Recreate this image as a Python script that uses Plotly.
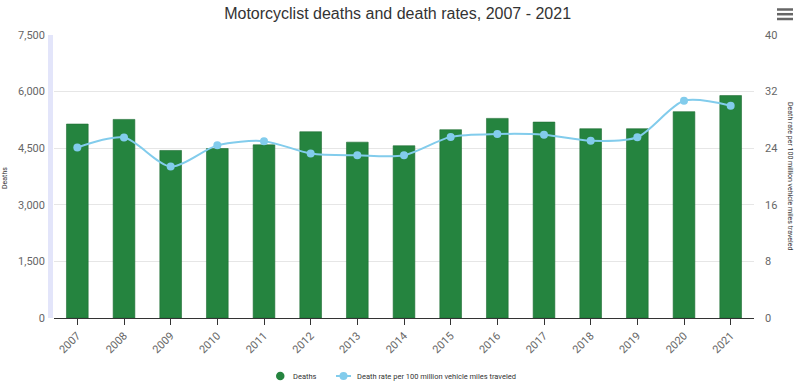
import plotly.graph_objects as go

years = [str(y) for y in range(2007, 2022)]
deaths = [5140, 5263, 4440, 4492, 4590, 4936, 4660, 4565, 4990, 5290, 5192, 5016, 5016, 5468, 5894]
death_rate = [24.1, 25.5, 21.4, 24.4, 25.0, 23.25, 23.0, 23.0, 25.6, 26.0, 25.9, 25.05, 25.55, 30.7, 30.0]
left_ticks = [0, 1500, 3000, 4500, 6000, 7500]
right_ticks = [0, 8, 16, 24, 32, 40]
deaths_name = "Deaths"
rate_name = "Death rate per 100 million vehicle miles traveled"

W, H = 800, 386
L, R, T, B = 54, 46, 35, 68
pw, ph = W - L - R, H - T - B

def px(x):
    return (x - L) / pw

def py(y):
    return (H - B - y) / ph

bar_color = "#25843f"
line_color = "#82ccec"

fig = go.Figure()
fig.add_trace(go.Bar(x=years, y=deaths, name=deaths_name,
                     marker=dict(color=bar_color, line=dict(color="#1d6b33", width=0.6)),
                     showlegend=False, yaxis="y"))
fig.add_trace(go.Scatter(x=years, y=death_rate, name=rate_name, showlegend=False,
                         mode="lines+markers", line=dict(color=line_color, width=2, shape="spline", smoothing=0.8),
                         marker=dict(color=line_color, size=8), yaxis="y2"))

ly = 376
shapes = [
    dict(type="rect", xref="paper", yref="paper", x0=px(48), x1=px(53), y0=0, y1=1,
         fillcolor="#e3e5fa", line=dict(width=0), layer="below"),
    # legend symbols
    dict(type="circle", xref="paper", yref="paper", x0=px(276), x1=px(284.5), y0=py(ly - 4.25), y1=py(ly + 4.25),
         fillcolor=bar_color, line=dict(width=0)),
    dict(type="line", xref="paper", yref="paper", x0=px(336), x1=px(351), y0=py(ly), y1=py(ly),
         line=dict(color=line_color, width=2)),
    dict(type="circle", xref="paper", yref="paper", x0=px(339.5), x1=px(347.5), y0=py(ly - 4), y1=py(ly + 4),
         fillcolor=line_color, line=dict(width=0)),
]
for yy in (9.5, 14.2, 19):
    shapes.append(dict(type="line", xref="paper", yref="paper", x0=px(777), x1=px(793), y0=py(yy), y1=py(yy),
                       line=dict(color="#666666", width=2.5)))

fig.update_layout(
    width=W, height=H,
    margin=dict(l=L, r=R, t=T, b=B, autoexpand=False),
    paper_bgcolor="white", plot_bgcolor="white",
    font=dict(family="Roboto, Arial, sans-serif", color="#666666"),
    title=dict(text="Motorcyclist deaths and death rates, 2007 - 2021", x=0.497, xanchor="center",
               y=1 - 13 / H, yanchor="middle",
               font=dict(family="Liberation Sans, Arial, sans-serif", size=16, color="#333333")),
    bargap=0.535,
    showlegend=False,
    xaxis=dict(type="category", range=[-0.5, 14.5], tickangle=-45, tickfont=dict(size=11, color="#666666"),
               automargin=False, showline=True, linecolor="#333333", linewidth=1, ticks="outside", ticklen=6,
               tickcolor="#333333", showgrid=False),
    yaxis=dict(range=[0, 7500], tickvals=left_ticks, tickformat=",", tickfont=dict(size=11, color="#666666"),
               showgrid=True, gridcolor="#e6e6e6", zeroline=False, ticks="", ticklabelstandoff=8,
               automargin=False),
    yaxis2=dict(range=[0, 40], tickvals=right_ticks, overlaying="y", side="right", automargin=False,
                tickfont=dict(size=11, color="#666666"), showgrid=False, zeroline=False, ticklabelstandoff=10),
    shapes=shapes,
    annotations=[
        dict(text="Deaths", xref="paper", yref="paper", x=px(5), y=py(178), textangle=-90,
             showarrow=False, font=dict(size=7, color="#333333"), xanchor="center", yanchor="middle"),
        dict(text=rate_name, xref="paper", yref="paper",
             x=px(790), y=py(176), textangle=90, showarrow=False, font=dict(size=7, color="#333333"),
             xanchor="center", yanchor="middle"),
        dict(text=deaths_name, xref="paper", yref="paper", x=px(292), y=py(ly), xanchor="left", yanchor="middle",
             showarrow=False, font=dict(size=7.5, color="#333333"), borderpad=0),
        dict(text=rate_name, xref="paper", yref="paper", x=px(356), y=py(ly), xanchor="left", yanchor="middle",
             showarrow=False, font=dict(size=7.5, color="#333333"), borderpad=0),
    ],
)

fig.write_html("out.html", config={"displayModeBar": False},
               post_script="document.body.style.margin='0';document.body.style.overflow='hidden';")
